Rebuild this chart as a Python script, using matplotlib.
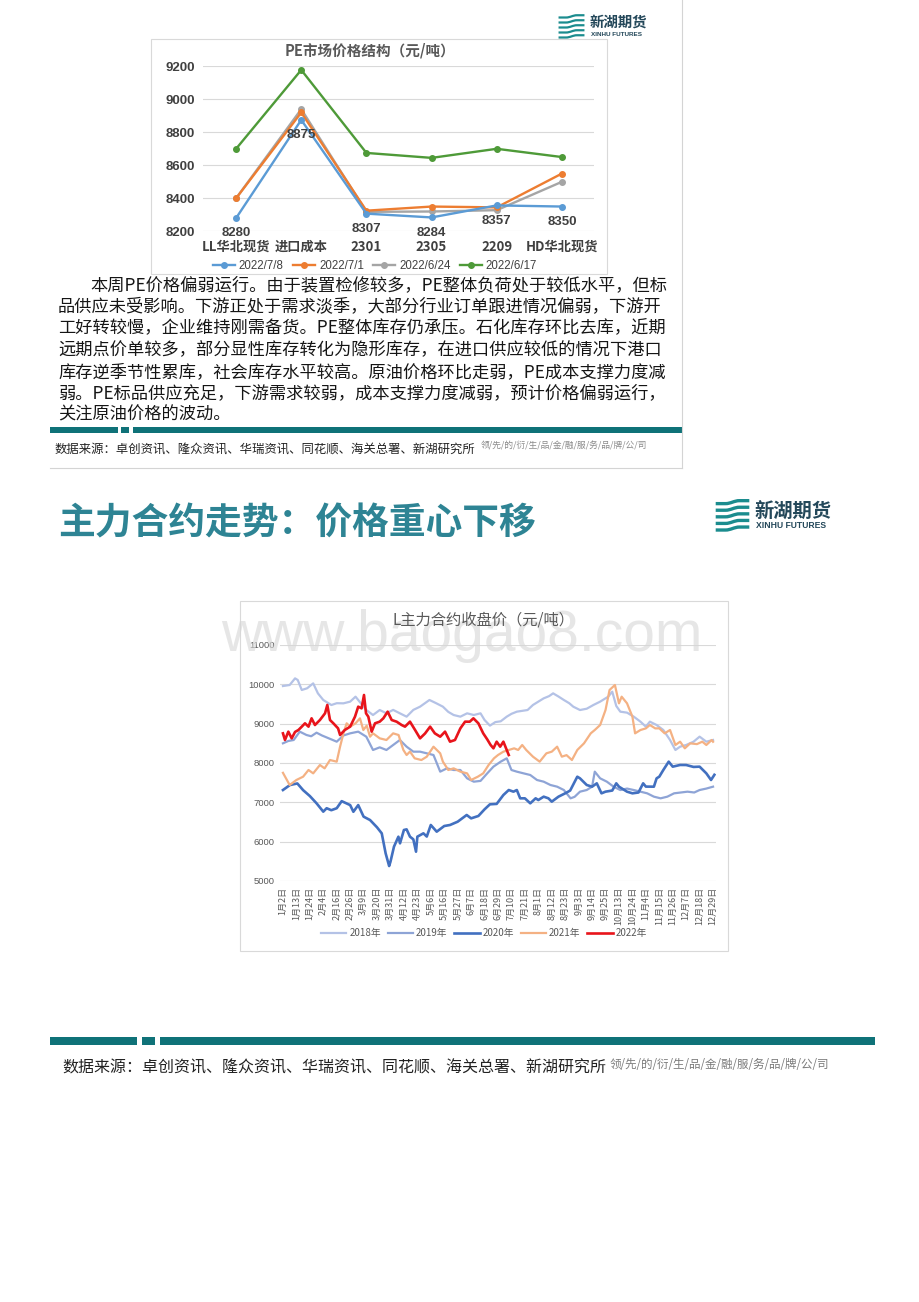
import matplotlib
matplotlib.use('Agg')
import matplotlib.pyplot as plt
from matplotlib.patches import Rectangle, PathPatch
from matplotlib.path import Path
from matplotlib.lines import Line2D

plt.rcParams['font.family'] = ['Noto Sans CJK SC', 'DejaVu Sans']

# ---------------- data: PE price structure ----------------
pe_categories = ['LL华北现货', '进口成本', '2301', '2305', '2209', 'HD华北现货']
pe_series_names = ['2022/7/8', '2022/7/1', '2022/6/24', '2022/6/17']
pe_0708 = [8280, 8875, 8307, 8284, 8357, 8350]
pe_0701 = [8400, 8920, 8325, 8350, 8345, 8550]
pe_0624 = [8400, 8940, 8318, 8320, 8328, 8500]
pe_0617 = [8700, 9178, 8675, 8645, 8700, 8650]
pe_yticks = [8200, 8400, 8600, 8800, 9000, 9200]

# ---------------- data: L main contract close ----------------
date_labels = ['1月2日', '1月13日', '1月24日', '2月4日', '2月16日', '2月26日', '3月9日',
               '3月20日', '3月31日', '4月12日', '4月23日', '5月6日', '5月16日', '5月27日',
               '6月7日', '6月18日', '6月29日', '7月10日', '7月21日', '8月1日', '8月12日',
               '8月23日', '9月3日', '9月14日', '9月25日', '10月13日', '10月24日', '11月4日',
               '11月15日', '11月26日', '12月7日', '12月18日', '12月29日']
year_labels = ['2018年', '2019年', '2020年', '2021年', '2022年']
price_yticks = [5000, 6000, 7000, 8000, 9000, 10000, 11000]

x2018 = [0, 0.5, 0.9, 1.1, 1.4, 1.8, 2.25, 2.6, 3.0, 3.6, 4.0, 4.5, 5.0, 5.4, 5.8, 6.2, 6.7,
         7.2, 7.7, 8.2, 8.7, 9.2, 9.7, 10.2, 10.9, 11.4, 11.9, 12.3, 12.7, 13.2, 13.7, 14.2,
         14.7, 15.0, 15.4, 15.8, 16.2, 16.65, 17.0, 17.4, 18.2, 18.6, 19.0, 19.4, 19.8, 20.1,
         20.5, 20.9, 21.3, 21.6, 22.1, 22.6, 23.1, 23.6, 24.2, 24.5, 24.8, 25.1, 25.6, 26.1,
         26.6, 27.0, 27.3, 27.8, 28.3, 28.8, 29.2, 29.55, 30.0, 30.55, 31.0, 31.5, 32.0]
y2018 = [9957, 9983, 10152, 10110, 9856, 9900, 10025, 9771, 9602, 9474, 9520, 9517, 9560, 9686,
         9517, 9347, 9220, 9347, 9263, 9350, 9263, 9178, 9350, 9432, 9602, 9520, 9432, 9300,
         9220, 9178, 9263, 9220, 9263, 9093, 8950, 9040, 9060, 9178, 9250, 9305, 9347, 9475,
         9560, 9644, 9700, 9771, 9690, 9602, 9520, 9432, 9347, 9380, 9475, 9560, 9686, 9813,
         9450, 9305, 9280, 9178, 9051, 8924, 9051, 8966, 8839, 8585, 8331, 8415, 8458, 8542,
         8670, 8542, 8585]

x2019 = [0, 0.4, 0.8, 1.25, 1.75, 2.1, 2.5, 2.9, 3.25, 3.6, 4.0, 4.5, 5.0, 5.6, 6.2, 6.7, 7.2,
         7.7, 8.2, 8.7, 9.2, 9.7, 10.2, 10.7, 11.2, 11.5, 11.7, 12.2, 12.7, 13.2, 13.7, 14.2,
         14.7, 15.2, 15.66, 16.2, 16.65, 17.0, 17.4, 17.9, 18.4, 18.9, 19.4, 19.9, 20.4, 20.9,
         21.4, 21.7, 22.1, 22.6, 23.0, 23.2, 23.6, 24.1, 24.6, 25.1, 25.6, 26.1, 26.6, 27.1,
         27.6, 28.1, 28.6, 29.1, 29.6, 30.1, 30.6, 31.0, 31.5, 32.0]
y2019 = [8500, 8560, 8585, 8797, 8712, 8680, 8771, 8700, 8650, 8600, 8542, 8700, 8754, 8797,
         8669, 8331, 8398, 8331, 8458, 8585, 8415, 8288, 8288, 8246, 8203, 7950, 7780, 7864,
         7822, 7822, 7610, 7525, 7545, 7737, 7907, 8034, 8119, 7822, 7780, 7737, 7695, 7568,
         7525, 7441, 7398, 7313, 7102, 7140, 7271, 7313, 7398, 7780, 7610, 7525, 7398, 7313,
         7350, 7313, 7271, 7229, 7144, 7102, 7144, 7229, 7250, 7271, 7250, 7313, 7350, 7398]

x2020 = [0, 0.52, 1.07, 1.5, 2.0, 2.5, 3.0, 3.25, 3.6, 4.0, 4.37, 5.0, 5.24, 5.6, 6.0, 6.48,
         7.0, 7.35, 7.64, 7.9, 8.0, 8.26, 8.59, 8.71, 9.0, 9.2, 9.45, 9.7, 9.9, 10.0, 10.45,
         10.7, 11.0, 11.44, 12.0, 12.43, 13.0, 13.67, 14.0, 14.54, 15.0, 15.4, 15.9, 16.4, 16.8,
         17.15, 17.4, 17.65, 18.0, 18.4, 18.8, 19.0, 19.4, 19.75, 20.0, 20.5, 21.0, 21.37, 21.9,
         22.1, 22.6, 23.0, 23.35, 23.7, 24.0, 24.5, 24.8, 25.0, 25.6, 26.0, 26.45, 26.8, 27.0,
         27.6, 27.8, 28.0, 28.3, 28.7, 29.0, 29.55, 30.0, 30.55, 31.0, 31.5, 31.85, 32.1]
y2020 = [7313, 7440, 7480, 7310, 7160, 6975, 6763, 6850, 6800, 6850, 7030, 6930, 6760, 6930,
         6636, 6550, 6364, 6212, 5703, 5381, 5491, 5873, 6127, 5958, 6297, 6313, 6127, 6059,
         5745, 6127, 6212, 6130, 6424, 6254, 6398, 6424, 6508, 6678, 6593, 6653, 6822, 6950,
         6960, 7186, 7313, 7271, 7313, 7102, 7102, 6975, 7102, 7059, 7144, 7102, 7017, 7144,
         7229, 7300, 7652, 7610, 7441, 7398, 7483, 7229, 7271, 7300, 7483, 7398, 7271, 7229,
         7250, 7483, 7400, 7398, 7610, 7652, 7822, 8034, 7907, 7950, 7949, 7900, 7907, 7737,
         7568, 7700]

x2021 = [0, 0.5, 1.0, 1.5, 1.9, 2.25, 2.75, 3.1, 3.5, 4.0, 4.25, 4.5, 4.74, 5.0, 5.4, 5.73,
         5.98, 6.23, 6.48, 6.7, 7.2, 7.7, 8.2, 8.6, 8.96, 9.2, 9.45, 9.8, 10.3, 10.7, 11.2,
         11.7, 11.9, 12.3, 12.7, 13.2, 13.7, 14.0, 14.5, 14.9, 15.3, 15.7, 16.0, 16.4, 17.2,
         17.5, 17.8, 18.1, 18.6, 19.1, 19.6, 20.0, 20.4, 20.75, 21.1, 21.5, 21.9, 22.4, 22.9,
         23.2, 23.6, 24.0, 24.3, 24.7, 25.0, 25.2, 25.6, 26.0, 26.2, 26.6, 27.0, 27.3, 27.7,
         28.0, 28.4, 28.8, 29.2, 29.55, 29.9, 30.3, 30.8, 31.2, 31.5, 31.9, 32.0]
y2021 = [7750, 7440, 7568, 7652, 7822, 7737, 7949, 7864, 8076, 8034, 8415, 8754, 9009, 8924,
         9009, 9136, 8839, 8950, 8669, 8754, 8627, 8585, 8754, 8712, 8331, 8203, 8290, 8119,
         8076, 8160, 8415, 8246, 8034, 7822, 7864, 7780, 7737, 7568, 7652, 7737, 7949, 8119,
         8203, 8288, 8373, 8331, 8458, 8331, 8161, 8034, 8246, 8288, 8415, 8161, 8200, 8076,
         8331, 8500, 8754, 8839, 8966, 9347, 9856, 9983, 9517, 9686, 9517, 9178, 8754, 8839,
         8880, 8966, 8880, 8881, 8754, 8840, 8458, 8542, 8373, 8500, 8480, 8542, 8458, 8585,
         8540]

x2022 = [0, 0.15, 0.4, 0.65, 0.9, 1.15, 1.4, 1.64, 1.9, 2.13, 2.38, 2.75, 3.13, 3.3, 3.5,
         3.75, 4.1, 4.25, 4.6, 5.0, 5.36, 5.6, 5.85, 6.03, 6.18, 6.35, 6.6, 6.85, 7.2, 7.47,
         7.79, 8.09, 8.46, 8.83, 9.08, 9.45, 9.83, 10.2, 10.57, 10.95, 11.3, 11.7, 12.06, 12.43,
         12.8, 13.2, 13.55, 13.9, 14.17, 14.54, 14.9, 15.2, 15.45, 15.66, 15.9, 16.16, 16.4,
         16.65, 16.8]
y2022 = [8754, 8585, 8797, 8627, 8790, 8839, 8924, 9009, 8924, 9136, 8966, 9093, 9263, 9475,
         9093, 9009, 8881, 8712, 8839, 8924, 9178, 9432, 9390, 9729, 9263, 9178, 8797, 9009,
         9051, 9136, 9305, 9093, 9050, 8966, 8924, 9051, 8839, 8627, 8750, 8924, 8754, 8669,
         8797, 8542, 8585, 8881, 9051, 9050, 9136, 9009, 8754, 8600, 8458, 8373, 8542, 8415,
         8542, 8331, 8203]

paragraph_lines = [
    '本周PE价格偏弱运行。由于装置检修较多，PE整体负荷处于较低水平，但标',
    '品供应未受影响。下游正处于需求淡季，大部分行业订单跟进情况偏弱，下游开',
    '工好转较慢，企业维持刚需备货。PE整体库存仍承压。石化库存环比去库，近期',
    '远期点价单较多，部分显性库存转化为隐形库存，在进口供应较低的情况下港口',
    '库存逆季节性累库，社会库存水平较高。原油价格环比走弱，PE成本支撑力度减',
    '弱。PE标品供应充足，下游需求较弱，成本支撑力度减弱，预计价格偏弱运行，',
    '关注原油价格的波动。',
]
source_text = '数据来源：卓创资讯、隆众资讯、华瑞资讯、同花顺、海关总署、新湖研究所'
slogan_text = '领/先/的/衍/生/品/金/融/服/务/品/牌/公/司'
section_title = '主力合约走势：价格重心下移'

# ---------------- figure helpers ----------------
W, H = 920, 1302
fig = plt.figure(figsize=(W / 100, H / 100), dpi=100)
fig.patch.set_facecolor('white')


def FX(x):
    return x / W


def FY(y):
    return 1 - y / H


def axes_px(x0, y0, x1, y1):
    return fig.add_axes([FX(x0), FY(y1), (x1 - x0) / W, (y1 - y0) / H])


def rect_px(x0, y0, x1, y1, fc='none', ec='none', lw=0.8, z=0):
    fig.add_artist(Rectangle((FX(x0), FY(y1)), (x1 - x0) / W, (y1 - y0) / H,
                             transform=fig.transFigure, facecolor=fc, edgecolor=ec,
                             linewidth=lw, zorder=z))


def line_px(xs, ys, color, lw):
    fig.add_artist(Line2D([FX(v) for v in xs], [FY(v) for v in ys],
                          transform=fig.transFigure, color=color, lw=lw))


def text_px(x, y, s, **kw):
    return fig.text(FX(x), FY(y), s, **kw)


TEAL = '#0F7278'
LOGO_TEAL = '#1B8C8E'
LOGO_TEXT = '#24485A'


def draw_logo(x0, y0, x1, y1, tx, ty, tsize, sy, ssize, lw):
    ax = axes_px(x0, y0, x1, y1)
    ax.set_xlim(0, 1)
    ax.set_ylim(0, 1)
    ax.axis('off')
    codes = [Path.MOVETO, Path.LINETO, Path.CURVE4, Path.CURVE4, Path.CURVE4, Path.LINETO]
    for i in range(5):
        yb = 0.06 + i * 0.2
        verts = [(0.02, yb), (0.3, yb), (0.45, yb), (0.55, yb + 0.09), (0.7, yb + 0.09),
                 (0.98, yb + 0.09)]
        ax.add_patch(PathPatch(Path(verts, codes), fill=False, edgecolor=LOGO_TEAL,
                               lw=lw, capstyle='butt'))
    text_px(tx, ty, '新湖期货', fontsize=tsize, fontweight='bold', color=LOGO_TEXT,
            va='center', ha='left')
    text_px(tx + 1, sy, 'XINHU FUTURES', fontsize=ssize, fontweight='bold',
            family='Liberation Sans', color=LOGO_TEXT, va='center', ha='left')


# ---------------- top page thumbnail frame ----------------
line_px([682, 682], [0, 468], '#D4D4D4', 0.8)
line_px([50, 682], [468, 468], '#D4D4D4', 0.8)
draw_logo(558, 14, 585, 39, 590, 23, 10.4, 35, 4.6, 1.6)

# ---------------- top chart ----------------
rect_px(151, 39, 607, 274, ec='#D9D9D9', lw=0.8)
ax1 = axes_px(203.5, 66.3, 594.5, 231.3)
ax1.set_xlim(-0.5, 5.5)
ax1.set_ylim(8200, 9200)
ax1.set_yticks(pe_yticks)
ax1.set_yticklabels([str(v) for v in pe_yticks], fontsize=9.5, fontweight='bold',
                    family='Liberation Sans', color='#404040')
ax1.set_xticks(range(len(pe_categories)))
ax1.set_xticklabels(pe_categories, fontsize=9.5, fontweight='bold', color='#404040')
ax1.tick_params(axis='y', length=0, pad=6)
ax1.tick_params(axis='x', length=0, pad=6)
ax1.grid(axis='y', color='#D9D9D9', lw=0.8)
ax1.set_axisbelow(True)
for s in ax1.spines.values():
    s.set_visible(False)

pe_colors = ['#5B9BD5', '#ED7D31', '#A5A5A5', '#4E9A38']
pe_values = [pe_0708, pe_0701, pe_0624, pe_0617]
handles = [None] * 4
for idx in [3, 2, 1, 0]:
    ln, = ax1.plot(range(len(pe_categories)), pe_values[idx], color=pe_colors[idx], lw=1.7,
                   marker='o', ms=4, label=pe_series_names[idx])
    handles[idx] = ln
for i, v in enumerate(pe_0708):
    ax1.annotate(str(v), (i, v), xytext=(0, -11), textcoords='offset points', ha='center',
                 va='center', fontsize=9.5, fontweight='bold', family='Liberation Sans',
                 color='#404040')
text_px(370, 51, 'PE市场价格结构（元/吨）', ha='center', va='center', fontsize=10.5,
        fontweight='bold', color='#595959')
fig.legend(handles, pe_series_names, loc='center', bbox_to_anchor=(FX(375), FY(266)),
           ncol=4, frameon=False, prop={'family': 'Liberation Sans', 'size': 8.3},
           labelcolor='#404040', handlelength=1.9, handletextpad=0.35, columnspacing=0.8,
           borderpad=0)

# ---------------- paragraph ----------------
para_y = [285, 307, 328.5, 350, 372, 393.5, 414]
for i, (s, y) in enumerate(zip(paragraph_lines, para_y)):
    text_px(90 if i == 0 else 58, y, s, fontsize=12.4, color='#151515', va='center', ha='left')

# top teal bar + source
rect_px(50, 427, 118, 433, fc=TEAL)
rect_px(121, 427, 129, 433, fc=TEAL)
rect_px(133, 427, 682, 433, fc=TEAL)
text_px(55, 449, source_text, fontsize=8.9, color='#222222', va='center', ha='left')
text_px(481, 446, slogan_text, fontsize=6.3, color='#8A8A8A', va='center', ha='left')

# ---------------- section title ----------------
text_px(58, 524, section_title, fontsize=26.5, fontweight='bold', color='#2E8494',
        va='center', ha='left')
draw_logo(715, 499, 750, 532, 755, 512, 13.9, 526, 6.2, 2.4)

# ---------------- bottom chart ----------------
rect_px(240, 601, 728, 951, ec='#D9D9D9', lw=0.8)
ax2 = axes_px(280, 645, 716, 881)
ax2.set_xlim(-0.22, 32.22)
ax2.set_ylim(5000, 11000)
ax2.set_yticks(price_yticks)
ax2.set_yticklabels([str(v) for v in price_yticks], fontsize=6.8, family='Liberation Sans',
                    color='#595959')
ax2.set_xticks(range(len(date_labels)))
ax2.set_xticklabels(date_labels, rotation=90, fontsize=6.5, color='#595959')
ax2.tick_params(axis='y', length=0, pad=4)
ax2.tick_params(axis='x', length=0, pad=4)
ax2.grid(axis='y', color='#D9D9D9', lw=0.8)
ax2.set_axisbelow(True)
for s in ax2.spines.values():
    s.set_visible(False)

year_colors = ['#B4C2E6', '#8EA4D6', '#4270C0', '#F4B183', '#E8141B']
year_widths = [1.6, 1.6, 1.9, 1.6, 1.9]
xs = [x2018, x2019, x2020, x2021, x2022]
ys = [y2018, y2019, y2020, y2021, y2022]
h2 = []
for xv, yv, c, w, lab in zip(xs, ys, year_colors, year_widths, year_labels):
    ln, = ax2.plot(xv, yv, color=c, lw=w, label=lab, solid_joinstyle='round')
    h2.append(ln)
fig.legend(h2, year_labels, loc='center', bbox_to_anchor=(FX(484), FY(933)), ncol=5,
           frameon=False, fontsize=7, labelcolor='#595959', handlelength=2.6,
           handletextpad=0.3, columnspacing=0.7, borderpad=0)
# watermark drawn behind the chart title
text_px(462, 636, 'www.baogao8.com', ha='center', va='center', fontsize=41,
        family='Liberation Sans', color='#D6D6D6', alpha=0.6, zorder=5)
text_px(484, 620, 'L主力合约收盘价（元/吨）', ha='center', va='center', fontsize=11,
        color='#595959', zorder=12)

# ---------------- bottom teal bar + source ----------------
rect_px(50, 1037, 137, 1045, fc=TEAL)
rect_px(142, 1037, 155, 1045, fc=TEAL)
rect_px(160, 1037, 875, 1045, fc=TEAL)
text_px(62, 1068, source_text, fontsize=11.5, color='#222222', va='center', ha='left')
text_px(610, 1064, slogan_text, fontsize=8.3, color='#7A7A7A', va='center', ha='left')

fig.savefig('out.png', dpi=100, facecolor='white')
